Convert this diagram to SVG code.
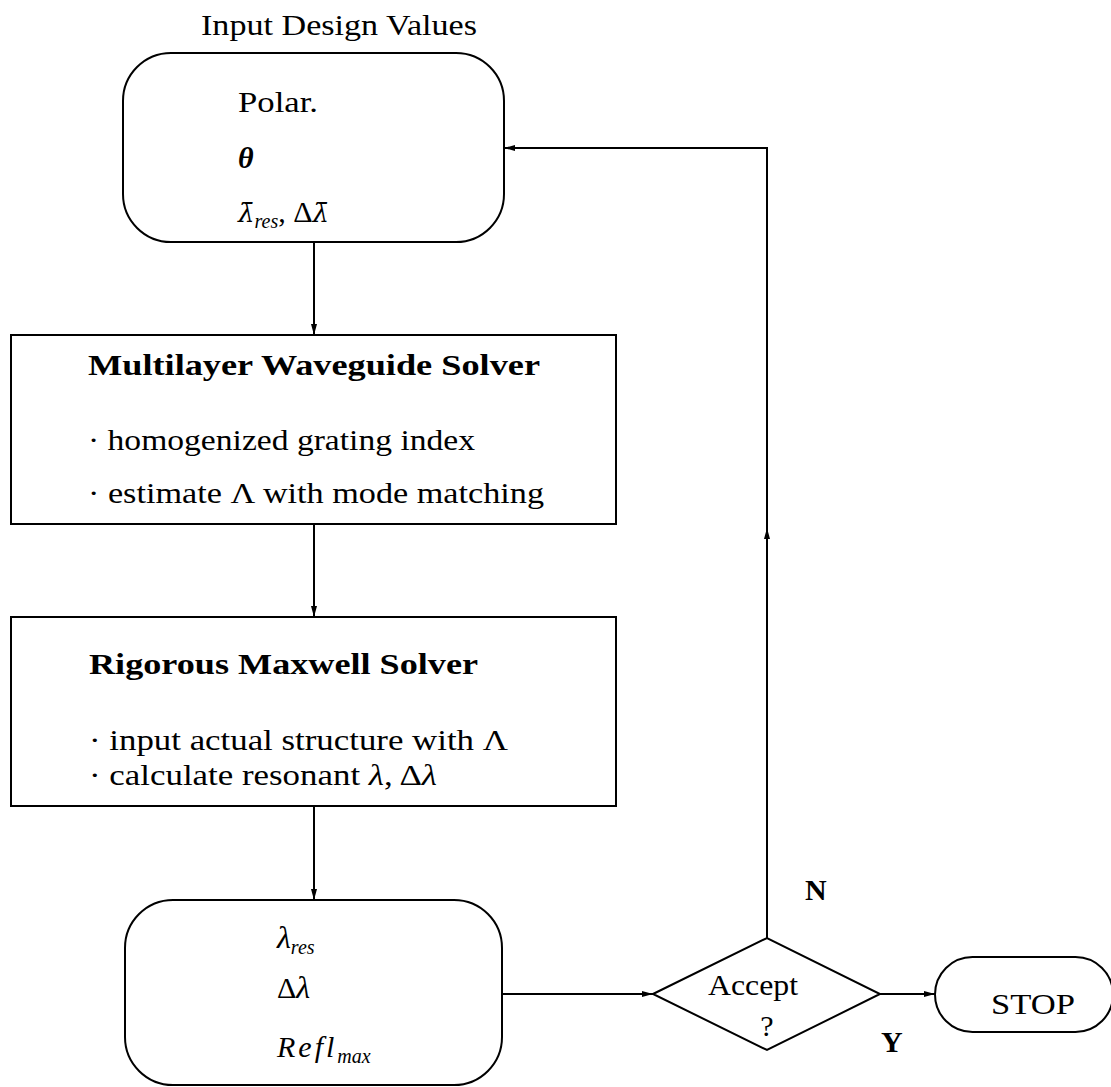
<svg xmlns="http://www.w3.org/2000/svg" width="1111" height="1087" viewBox="0 0 1111 1087">
<defs>
<marker id="ah" markerUnits="userSpaceOnUse" markerWidth="12" markerHeight="8" refX="11" refY="4" orient="auto"><path d="M0,1 L11,4 L0,7 z" fill="#000"/></marker>
<style>
.s{fill:#fff;stroke:#000;stroke-width:2}
.c{fill:none;stroke:#000;stroke-width:2}
text{font-family:"Liberation Serif","Times New Roman",serif;font-size:30px;fill:#000}
.b{font-weight:bold}
.i{font-style:italic}
.m{font-family:"DejaVu Serif",serif;font-style:italic}
.sub{font-size:20px;font-style:italic}
</style>
</defs>
<rect x="0" y="0" width="1111" height="1087" fill="#fff"/>
<text x="201" y="35" textLength="276" lengthAdjust="spacingAndGlyphs">Input Design Values</text>
<g id="connectors">
<path class="c" d="M314,242 V335" marker-end="url(#ah)"/>
<path class="c" d="M314,524 V617" marker-end="url(#ah)"/>
<path class="c" d="M314,806 V900" marker-end="url(#ah)"/>
<path class="c" d="M502,994 H653" marker-end="url(#ah)"/>
<path class="c" d="M880,994 H935" marker-end="url(#ah)"/>
<path class="c" d="M767,938 V528" marker-end="url(#ah)"/>
<path class="c" d="M767,528 V148 H504" marker-end="url(#ah)"/>
<text class="b" x="805" y="900">N</text>
<text class="b" x="881" y="1052">Y</text>
</g>
<g id="input">
<rect class="s" x="123" y="53" width="381" height="189" rx="48"/>
<text x="238" y="112" textLength="80" lengthAdjust="spacingAndGlyphs">Polar.</text>
<text class="i b" x="238" y="168">θ</text>
<text x="238" y="222"><tspan class="m" font-size="26">λ̄</tspan><tspan class="sub" dy="6">res</tspan><tspan dy="-6">, Δ</tspan><tspan class="m" font-size="26">λ̄</tspan></text>
</g>
<g id="multilayer">
<rect class="s" x="11" y="335" width="605" height="189"/>
<text class="b" x="88" y="375" textLength="452" lengthAdjust="spacingAndGlyphs">Multilayer Waveguide Solver</text>
<text x="88" y="450" textLength="387" lengthAdjust="spacingAndGlyphs">· homogenized grating index</text>
<text x="88" y="503" textLength="456" lengthAdjust="spacingAndGlyphs">· estimate Λ with mode matching</text>
</g>
<g id="rigorous">
<rect class="s" x="11" y="617" width="605" height="189"/>
<text class="b" x="89" y="674" textLength="389" lengthAdjust="spacingAndGlyphs">Rigorous Maxwell Solver</text>
<text x="89" y="750" textLength="419" lengthAdjust="spacingAndGlyphs">· input actual structure with Λ</text>
<text x="89" y="785" textLength="348" lengthAdjust="spacingAndGlyphs">· calculate resonant <tspan class="i">λ</tspan>, Δ<tspan class="i">λ</tspan></text>
</g>
<g id="output">
<rect class="s" x="125" y="900" width="377" height="185" rx="48"/>
<text x="277" y="948"><tspan class="i" font-size="32">λ</tspan><tspan class="sub" dy="6">res</tspan></text>
<text x="277" y="998">Δ<tspan class="i" font-size="32">λ</tspan></text>
<text x="277" y="1057" font-size="32"><tspan class="i" letter-spacing="3">Refl</tspan><tspan class="sub" dy="6" font-size="22">max</tspan></text>
</g>
<g id="decision">
<polygon class="s" points="653,994 767,938 880,994 767,1050"/>
<text x="708" y="995" textLength="90" lengthAdjust="spacingAndGlyphs">Accept</text>
<text x="767" y="1036" text-anchor="middle">?</text>
</g>
<g id="stop">
<rect class="s" x="935" y="957" width="178" height="75" rx="37.5"/>
<text x="1033" y="1014" text-anchor="middle" textLength="84" lengthAdjust="spacingAndGlyphs">STOP</text>
</g>
</svg>
